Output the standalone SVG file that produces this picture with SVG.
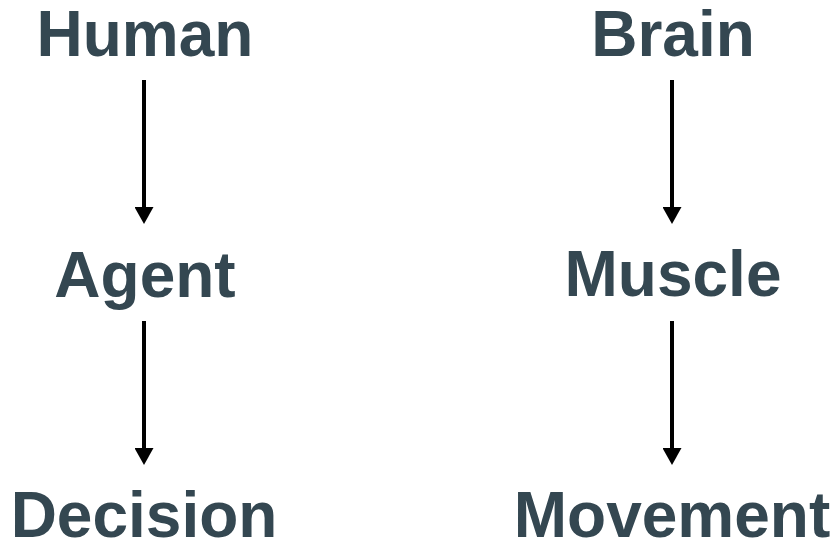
<svg xmlns="http://www.w3.org/2000/svg" width="835" height="543" viewBox="0 0 835 543">
<defs>
<style>
.lbl{font-family:"Liberation Sans",Arial,sans-serif;font-weight:bold;font-size:64px;fill:#344751;text-anchor:middle}
.conn line{stroke:#000;stroke-width:4}
</style>
<marker id="ah" markerUnits="userSpaceOnUse" markerWidth="17" markerHeight="19" refX="5" refY="9.5" orient="auto" viewBox="0 0 17 19">
<path d="M0,0 L17,9.5 L0,19 Z" fill="#000"/>
</marker>
</defs>
<rect width="835" height="543" fill="#fff"/>
<g id="connectors" class="conn">
<line x1="144" y1="80" x2="144" y2="212" marker-end="url(#ah)"/>
<line x1="144" y1="321" x2="144" y2="453" marker-end="url(#ah)"/>
<line x1="672" y1="80" x2="672" y2="212" marker-end="url(#ah)"/>
<line x1="672" y1="321" x2="672" y2="453" marker-end="url(#ah)"/>
</g>
<g id="human"><text class="lbl" x="145" y="56">Human</text></g>
<g id="agent"><text class="lbl" x="145" y="297">Agent</text></g>
<g id="decision"><text class="lbl" x="144" y="537">Decision</text></g>
<g id="brain"><text class="lbl" x="673" y="56">Brain</text></g>
<g id="muscle"><text class="lbl" x="673" y="296">Muscle</text></g>
<g id="movement"><text class="lbl" x="672" y="537">Movement</text></g>
</svg>
